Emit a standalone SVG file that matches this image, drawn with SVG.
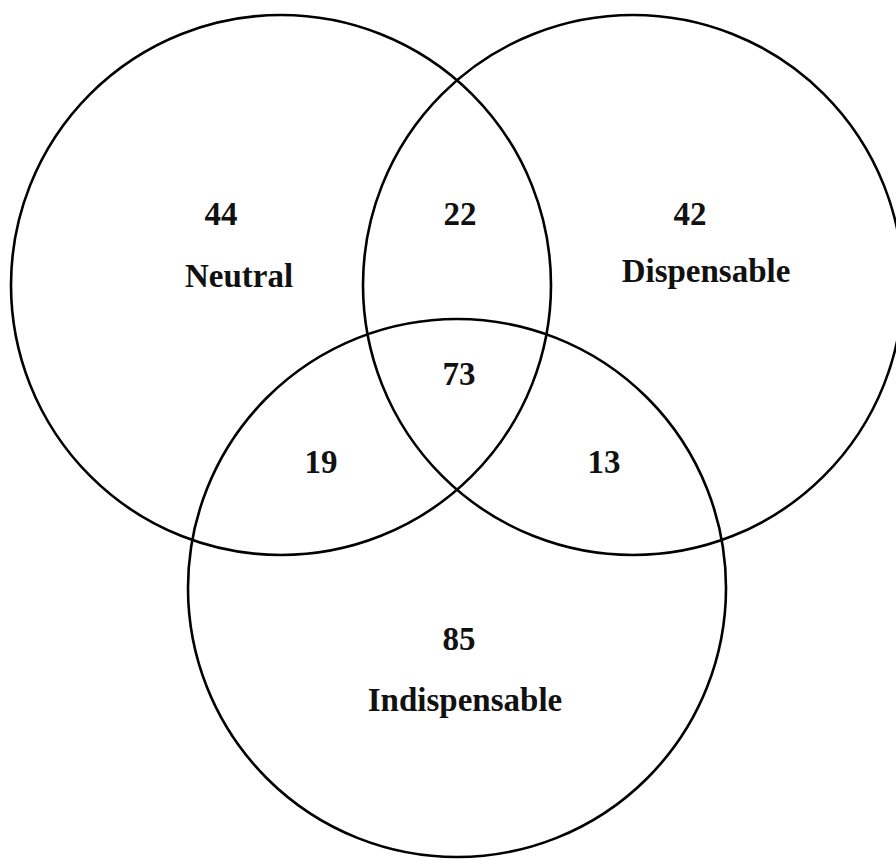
<svg xmlns="http://www.w3.org/2000/svg" width="896" height="860" viewBox="0 0 896 860">
  <style>
    .set { fill: none; stroke: #000; stroke-width: 2.6; }
    .lbl { font-family: "Liberation Serif", "Times New Roman", serif; font-weight: bold; font-size: 33px; fill: #111; text-anchor: middle; }
  </style>
  <rect width="896" height="860" fill="#fff"/>
  <g id="neutral">
    <circle class="set" cx="281" cy="285" r="270"/>
    <text class="lbl" x="221" y="225">44</text>
    <text class="lbl" x="239" y="287">Neutral</text>
  </g>
  <g id="dispensable">
    <circle class="set" cx="633" cy="285" r="270"/>
    <text class="lbl" x="690" y="225">42</text>
    <text class="lbl" x="706" y="282">Dispensable</text>
  </g>
  <g id="indispensable">
    <circle class="set" cx="457" cy="588" r="269"/>
    <text class="lbl" x="459" y="650">85</text>
    <text class="lbl" x="465" y="711">Indispensable</text>
  </g>
  <g id="overlaps">
    <text class="lbl" x="460" y="225">22</text>
    <text class="lbl" x="459" y="385">73</text>
    <text class="lbl" x="321" y="473">19</text>
    <text class="lbl" x="604" y="473">13</text>
  </g>
</svg>
